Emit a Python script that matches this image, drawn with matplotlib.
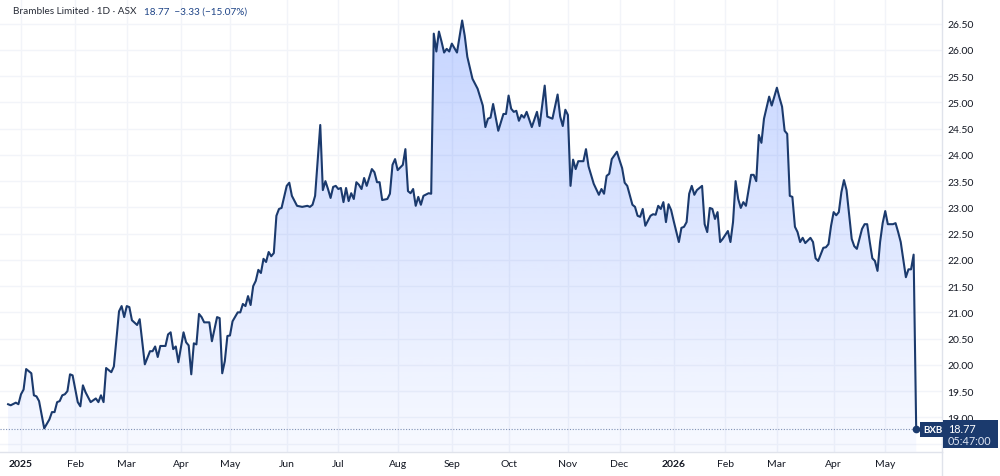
import numpy as np
import matplotlib
matplotlib.use("Agg")
import matplotlib.pyplot as plt
from matplotlib.patches import Rectangle

plt.rcParams['font.family'] = ['Lato', 'DejaVu Sans']

# ---------------- data ----------------
title_name = "Brambles Limited · 1D · ASX"
ticker = "BXB"
last_price = 18.77
change = -3.33
change_pct = -15.07
clock = "05:47:00"

# trading session number counted from 2 Jan 2025 (ASX sessions)
session = [-5, -4, -2, -1, 0, 1, 2, 4, 5, 6, 7, 9, 11, 12, 13, 14, 15, 16, 17, 18,
           19, 20, 22, 23, 24, 25, 27, 29, 30, 31, 32, 33, 35, 36, 38, 39, 40, 41, 42, 43,
           45, 46, 48, 50, 51, 52, 53, 54, 56, 57, 58, 59, 60, 61, 63, 64, 65, 66, 67, 68,
           69, 70, 71, 73, 74, 76, 77, 78, 79, 80, 81, 82, 84, 85, 86, 87, 88, 89, 90, 91,
           92, 93, 94, 95, 96, 97, 98, 99, 100, 101, 103, 104, 105, 107, 109, 111, 112, 113, 114, 116,
           117, 118, 119, 120, 121, 122, 123, 124, 125, 126, 127, 128, 129, 130, 131, 132, 133, 134, 136, 137,
           138, 139, 140, 142, 143, 144, 145, 146, 148, 149, 150, 151, 152, 153, 154, 155, 156, 158, 159, 160,
           161, 162, 163, 164, 165, 166, 167, 169, 171, 172, 173, 175, 177, 179, 180, 181, 182, 183, 185, 187,
           188, 189, 190, 191, 192, 193, 194, 195, 196, 198, 200, 201, 203, 204, 206, 208, 209, 210, 211, 212,
           213, 214, 215, 216, 218, 219, 220, 222, 224, 225, 226, 227, 228, 229, 231, 232, 233, 234, 235, 237,
           238, 239, 240, 241, 242, 244, 245, 246, 247, 248, 249, 250, 251, 252, 253, 255, 256, 257, 258, 259,
           260, 261, 262, 264, 265, 266, 267, 268, 269, 270, 271, 272, 274, 275, 276, 277, 278, 279, 280, 281,
           283, 284, 285, 286, 287, 288, 290, 291, 293, 294, 295, 296, 297, 298, 299, 300, 301, 302, 303, 304,
           306, 307, 308, 309, 311, 312, 313, 314, 315, 316, 317, 318, 319, 320, 322, 323, 324, 326, 327, 328,
           329, 330, 331, 332, 333, 334, 335, 336, 338, 339, 340, 341, 342, 343, 344, 345, 346, 347]

price = [19.25, 19.23, 19.28, 19.25, 19.44, 19.53, 19.92, 19.84, 19.42, 19.40, 19.31, 18.79, 18.96, 19.10, 19.10, 19.29, 19.31, 19.42, 19.44, 19.50,
         19.82, 19.80, 19.29, 19.21, 19.61, 19.48, 19.29, 19.36, 19.29, 19.42, 19.29, 19.94, 19.86, 19.97, 21.02, 21.12, 20.91, 21.12, 21.10, 20.85,
         20.76, 20.87, 20.01, 20.26, 20.26, 20.35, 20.15, 20.36, 20.36, 20.58, 20.62, 20.30, 20.35, 20.05, 20.62, 20.43, 20.37, 19.82, 20.41, 20.39,
         20.97, 20.91, 20.81, 20.81, 20.45, 20.91, 20.89, 19.84, 20.07, 20.55, 20.56, 20.83, 21.00, 21.00, 21.16, 21.12, 21.31, 21.14, 21.50, 21.60,
         21.81, 21.75, 22.02, 21.96, 22.15, 22.07, 22.13, 22.84, 22.97, 22.99, 23.41, 23.47, 23.22, 23.03, 23.01, 23.03, 23.01, 23.05, 23.22, 24.57,
         23.33, 23.50, 23.35, 23.18, 23.39, 23.41, 23.35, 23.37, 23.10, 23.37, 23.12, 23.27, 23.16, 23.48, 23.43, 23.35, 23.56, 23.41, 23.73, 23.67,
         23.48, 23.48, 23.14, 23.16, 23.26, 23.81, 23.92, 23.71, 23.81, 24.11, 23.31, 23.27, 23.35, 23.03, 23.20, 23.05, 23.22, 23.27, 23.26, 26.31,
         25.97, 26.35, 26.16, 25.95, 26.02, 25.97, 26.12, 25.95, 26.56, 26.27, 25.87, 25.45, 25.26, 24.94, 24.53, 24.69, 24.71, 24.97, 24.46, 24.78,
         24.78, 25.13, 24.88, 24.82, 24.84, 24.65, 24.76, 24.71, 24.82, 24.53, 24.82, 24.55, 25.32, 24.73, 24.69, 25.15, 24.73, 24.55, 24.86, 24.76,
         23.41, 23.91, 23.73, 23.88, 23.88, 24.11, 23.78, 23.45, 23.24, 23.35, 23.26, 23.60, 23.64, 23.92, 24.06, 23.90, 23.75, 23.47, 23.41, 23.05,
         23.01, 22.84, 22.82, 22.97, 22.65, 22.84, 22.87, 22.86, 23.03, 22.97, 23.10, 22.72, 23.06, 22.95, 22.74, 22.34, 22.61, 22.63, 22.72, 23.26,
         23.41, 23.24, 23.33, 23.41, 22.68, 22.53, 22.99, 22.97, 22.78, 22.91, 22.34, 22.40, 22.55, 22.34, 22.72, 23.50, 23.16, 22.99, 23.10, 23.03,
         23.62, 23.62, 23.50, 24.38, 24.23, 24.69, 25.11, 24.94, 25.28, 25.09, 24.92, 24.46, 24.40, 23.22, 23.20, 22.63, 22.53, 22.34, 22.42, 22.32,
         22.42, 22.34, 22.03, 21.98, 22.23, 22.24, 22.30, 22.65, 22.91, 22.85, 22.91, 23.29, 23.52, 23.33, 22.40, 22.26, 22.21, 22.59, 22.68, 22.68,
         22.34, 22.03, 21.98, 21.79, 22.34, 22.70, 22.93, 22.68, 22.68, 22.70, 22.53, 22.34, 22.00, 21.67, 21.82, 21.82, 22.10, 18.77]

asx_holidays = ['2025-01-27', '2025-04-18', '2025-04-21', '2025-04-25', '2025-06-09',
                '2025-12-25', '2025-12-26', '2026-01-01', '2026-01-26', '2026-04-03', '2026-04-06']
month_starts = ['2025-01-02', '2025-02-03', '2025-03-03', '2025-04-01', '2025-05-01', '2025-06-02',
                '2025-07-01', '2025-08-01', '2025-09-01', '2025-10-01', '2025-11-03', '2025-12-01',
                '2026-01-02', '2026-02-02', '2026-03-02', '2026-04-01', '2026-05-01']
month_labels = ['2025', 'Feb', 'Mar', 'Apr', 'May', 'Jun', 'Jul', 'Aug', 'Sep', 'Oct', 'Nov', 'Dec',
                '2026', 'Feb', 'Mar', 'Apr', 'May']
price_ticks = [18.5, 19.0, 19.5, 20.0, 20.5, 21.0, 21.5, 22.0, 22.5, 23.0, 23.5, 24.0, 24.5, 25.0, 25.5, 26.0, 26.5]

# ---------------- style ----------------
line_c = '#1b3a6d'
grid_c = '#f2f4f9'
border_c = '#e0e3eb'
text_c = '#131722'

W, H = 1000, 477
fig = plt.figure(figsize=(W / 100, H / 100), dpi=100)
fig.patch.set_facecolor('white')
ax = fig.add_axes([0, 24 / H, 942 / W, 453 / H])

xmin, xmax = -8.14, 357.0
ymin, ymax = 18.34, 26.97

# gradient area fill
poly = ax.fill_between(session, price, ymin, facecolor='none', edgecolor='none')
grad = np.zeros((256, 1, 4))
grad[..., 0] = 41 / 255
grad[..., 1] = 98 / 255
grad[..., 2] = 1.0
grad[:, 0, 3] = np.linspace(0.27, 0.035, 256)
im = ax.imshow(grad, extent=[xmin, xmax, ymin, max(price)], aspect='auto',
               origin='upper', zorder=1, interpolation='bicubic')
im.set_clip_path(poly.get_paths()[0], transform=ax.transData)

ax.plot(session, price, color=line_c, lw=1.5, solid_joinstyle='round', zorder=3)
ax.hlines(last_price, xmin, session[-1], colors='#7f90b4', linestyles=(0, (1, 1.5)), lw=0.8, zorder=2)
ax.plot(session[-1], price[-1], 'o', ms=4.5, color=line_c, zorder=4)

ax.set_xlim(xmin, xmax)
ax.set_ylim(ymin, ymax)

# ticks
xt = np.busday_count('2025-01-02', month_starts, holidays=asx_holidays)
ax.set_xticks(xt)
ax.set_xticklabels(month_labels)
for lbl, txt in zip(ax.get_xticklabels(), month_labels):
    if txt.isdigit():
        lbl.set_fontweight('bold')
ax.set_yticks(price_ticks)
ax.set_yticklabels(['' if v < 19 else f'{v:.2f}' for v in price_ticks])
ax.yaxis.tick_right()
ax.tick_params(axis='both', length=0, labelsize=7.5, labelcolor=text_c)
ax.tick_params(axis='x', pad=5)
ax.tick_params(axis='y', pad=4)
for lbl in ax.get_yticklabels():
    lbl.set_horizontalalignment('left')

ax.grid(True, color=grid_c, lw=1, zorder=0)
ax.set_axisbelow(True)
for s in ['top', 'left']:
    ax.spines[s].set_visible(False)
for s in ['right', 'bottom']:
    ax.spines[s].set_color(border_c)
    ax.spines[s].set_linewidth(1)

# right axis border continues into the time-axis strip
fig.add_artist(plt.Line2D([942 / W, 942 / W], [0, 24 / H], color=border_c, lw=1))

# ticker label next to last point
ax.annotate(ticker, xy=(session[-1], last_price), xytext=(5, 0), textcoords='offset points',
            ha='left', va='center', color='white', fontsize=7, fontweight='bold', zorder=5,
            bbox=dict(boxstyle='square,pad=0.3', fc=line_c, ec='none'))

# title
ty = 1 - 12 / H
t1 = fig.text(13 / W, ty, title_name, color='#2a2e39', fontsize=7.2, va='center', ha='left')

# last price box on the price axis
fig.canvas.draw()
r = fig.canvas.get_renderer()
x_end = t1.get_window_extent(r).x1
fig.text((x_end + 8) / W, ty, f'{last_price:.2f}  \u2212{abs(change):.2f} (\u2212{abs(change_pct):.2f}%)',
         color='#1e4487', fontsize=7.2, va='center', ha='left')

y_disp = ax.transData.transform((0, last_price))[1]
fig.add_artist(Rectangle((943 / W, (y_disp - 19) / H), 55 / W, 28 / H,
                         transform=fig.transFigure, fc=line_c, ec='none', zorder=5))
fig.text(948 / W, (y_disp + 1) / H, f'{last_price:.2f}', color='white', fontsize=7.8,
         va='center', ha='left', zorder=6)
fig.text(948 / W, (y_disp - 11) / H, clock, color='#dfe6f3', fontsize=7.8,
         va='center', ha='left', zorder=6)

fig.savefig('out.png', dpi=100, facecolor='white')
